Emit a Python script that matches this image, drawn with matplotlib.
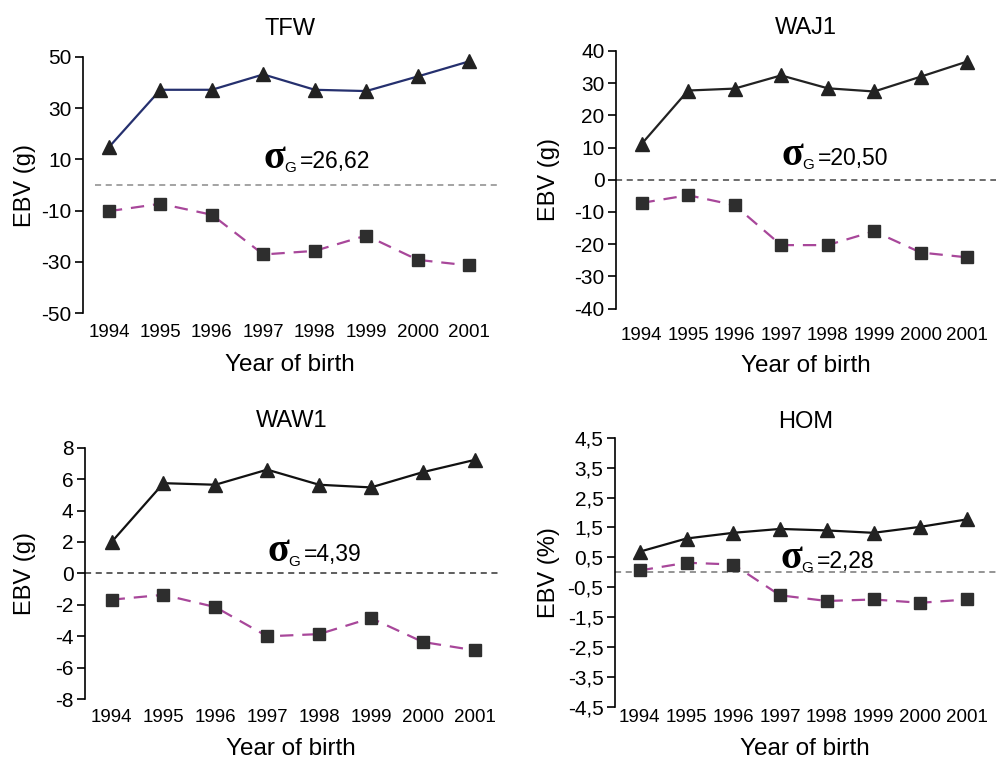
import numpy as np
import matplotlib.pyplot as plt

plt.rcParams['font.family'] = ['Liberation Sans', 'DejaVu Sans']
plt.rcParams['axes.unicode_minus'] = False

years = [1994, 1995, 1996, 1997, 1998, 1999, 2000, 2001]

# EBV trends: triangles (selected line) and squares (control line)
tfw_up = [14.8, 37.2, 37.2, 43.2, 37.2, 36.7, 42.4, 48.3]
tfw_dn = [-10.2, -7.3, -11.6, -27.1, -25.7, -19.7, -29.2, -31.4]
waj_up = [11.1, 27.7, 28.3, 32.4, 28.4, 27.4, 32.0, 36.7]
waj_dn = [-7.2, -4.8, -7.9, -20.3, -20.3, -16.0, -22.6, -24.1]
waw_up = [2.0, 5.74, 5.64, 6.6, 5.64, 5.47, 6.44, 7.22]
waw_dn = [-1.67, -1.36, -2.14, -4.0, -3.86, -2.84, -4.36, -4.89]
hom_up = [0.69, 1.13, 1.32, 1.45, 1.40, 1.32, 1.52, 1.77]
hom_dn = [0.06, 0.32, 0.26, -0.77, -0.96, -0.91, -1.02, -0.91]

titles = ['TFW', 'WAJ1', 'WAW1', 'HOM']
ylabels = ['EBV (g)', 'EBV (g)', 'EBV (g)', 'EBV (%)']
sigmas = ['=26,62', '=20,50', '=4,39', '=2,28']
sigma_y = [6.6, 4.6, 0.76, 0.15]

tfw_ticks = [-50, -30, -10, 10, 30, 50]
waj_ticks = [-40, -30, -20, -10, 0, 10, 20, 30, 40]
waw_ticks = [-8, -6, -4, -2, 0, 2, 4, 6, 8]
hom_ticks = [-4.5, -3.5, -2.5, -1.5, -0.5, 0.5, 1.5, 2.5, 3.5, 4.5]
hom_ticklabels = ['-4,5', '-3,5', '-2,5', '-1,5', '-0,5', '0,5', '1,5', '2,5', '3,5', '4,5']

fig = plt.figure(figsize=(9.96, 7.6), dpi=100)

rects = [[0.083, 0.588, 0.417, 0.337],
         [0.618, 0.594, 0.382, 0.339],
         [0.085, 0.080, 0.415, 0.331],
         [0.617, 0.070, 0.383, 0.354]]
xlims = [(1993.49, 2001.56), (1993.44, 2001.62), (1993.48, 2001.45), (1993.46, 2001.62)]
ups = [tfw_up, waj_up, waw_up, hom_up]
dns = [tfw_dn, waj_dn, waw_dn, hom_dn]
ticks = [tfw_ticks, waj_ticks, waw_ticks, hom_ticks]
upcol = ['#25306e', '#222222', '#111111', '#111111']
zerocol = ['#8a8a8a', '#444444', '#333333', '#777777']
zstart = [0.03, 0.0, 0.0, 0.0]
titlepad = [16, 12, 15, 7]
xtpad = [8, 13, 7, 1.5]
xlpad = [9.5, 8, 9, 9]
ylx = [-0.113, -0.145, -0.118, -0.142]

for k in range(4):
    ax = fig.add_axes(rects[k])
    ax.axhline(0, xmin=zstart[k], xmax=1, color=zerocol[k], ls=(0, (4, 3)), lw=1.1, clip_on=False)
    ax.plot(years, ups[k], '-', color=upcol[k], lw=1.6, marker='^', ms=10,
            mfc='#222222', mec='#222222', clip_on=False)
    ax.plot(years, dns[k], color='#a8479a', ls=(0, (6, 4)), lw=1.6, marker='s', ms=9,
            mfc='#2e2e2e', mec='#2e2e2e', clip_on=False)
    ax.set_xlim(*xlims[k])
    ax.set_ylim(ticks[k][0], ticks[k][-1])
    ax.set_yticks(ticks[k])
    if k == 3:
        ax.set_yticklabels(hom_ticklabels)
    ax.set_xticks(years)
    ax.set_xticklabels([str(y) for y in years])
    for s in ['top', 'right', 'bottom']:
        ax.spines[s].set_visible(False)
    ax.spines['left'].set_linewidth(1.2)
    ax.tick_params(axis='y', direction='out', length=6, width=1.2, labelsize=15, pad=2)
    ax.tick_params(axis='x', length=0, labelsize=13.5, pad=xtpad[k])
    ax.set_title(titles[k], fontsize=17, pad=titlepad[k])
    ax.set_xlabel('Year of birth', fontsize=17.5, labelpad=xlpad[k])
    ax.set_ylabel(ylabels[k], fontsize=17)
    ax.yaxis.set_label_coords(ylx[k], 0.5)
    # sigma_G annotation, pieced together
    ax.annotate('σ', xy=(1997.0, sigma_y[k]), xytext=(0, 0), textcoords='offset points',
                family='Liberation Serif', fontweight='bold', fontsize=29, va='baseline', ha='left')
    ax.annotate('G', xy=(1997.0, sigma_y[k]), xytext=(15, -3), textcoords='offset points',
                fontsize=11, va='baseline', ha='left')
    ax.annotate(sigmas[k], xy=(1997.0, sigma_y[k]), xytext=(26.5, 0), textcoords='offset points',
                fontsize=16.5, va='baseline', ha='left')

fig.savefig('out.png', dpi=100)
